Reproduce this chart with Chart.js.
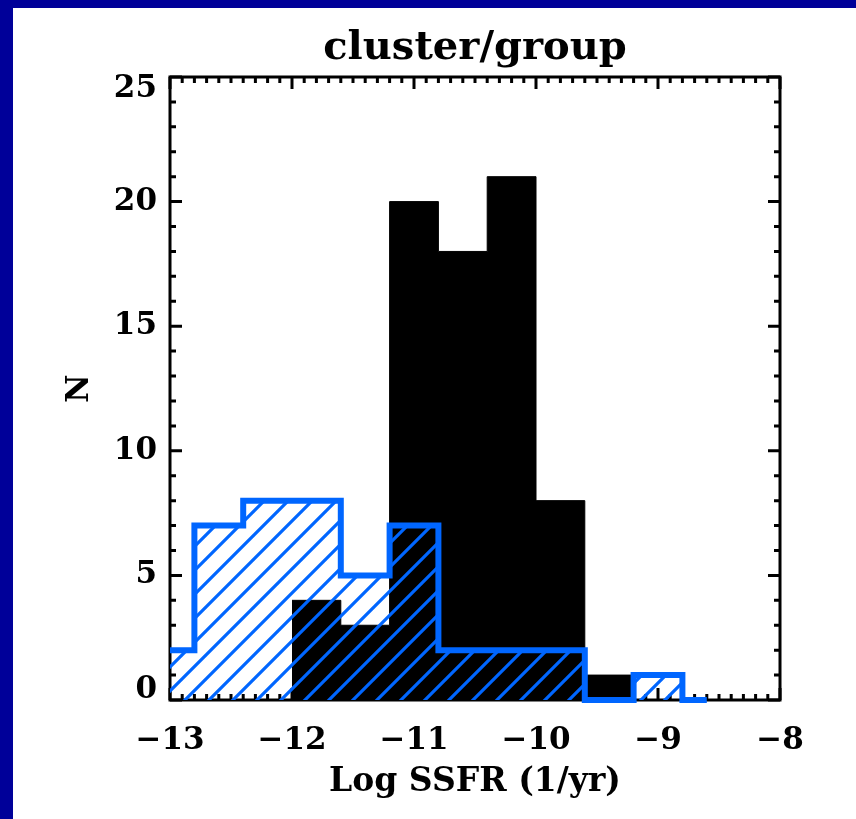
<!DOCTYPE html>
<html>
<head>
<meta charset="utf-8">
<script src="https://cdn.jsdelivr.net/npm/chart.js@4.4.1/dist/chart.umd.min.js"></script>
<style>
  body { margin: 0; background: #fff; }
  #wrap { border-left: 13px solid #000099; border-top: 8px solid #000099; width: 843px; height: 811px; background: #fff; }
</style>
</head>
<body>
<div id="wrap"><canvas id="myChart" width="843" height="811"></canvas></div>
<script>
/* data */
// black filled histogram: left bin edges (last one closes the final bin)
const blackEdges = [-12.0, -11.6, -11.2, -10.8, -10.4, -10.0, -9.6, -9.2];
const blackCounts = [4, 3, 20, 18, 21, 8, 1];

// blue hatched histogram: bin centres (drawn as a step-middle outline)
const blueCenters = [-13.0, -12.6, -12.2, -11.8, -11.4, -11.0, -10.6, -10.2, -9.8, -9.4, -9.0, -8.6];
const blueCounts = [2, 7, 8, 8, 5, 7, 2, 2, 2, 0, 1, 0];

const xTicks = [-13, -12, -11, -10, -9, -8];
const yTicks = [0, 5, 10, 15, 20, 25];
const xMinorStep = 0.1;
const yMinorStep = 1;

const BLUE = '#0066ff';

/* build points */
let blackPoints = [];
for (let i = 0; i < blackCounts.length; i++) {
    blackPoints.push({x: blackEdges[i], y: blackCounts[i]});
}
blackPoints.push({x: blackEdges[blackEdges.length - 1], y: blackCounts[blackCounts.length - 1]});

let bluePoints = blueCenters.map(function(c, i) { return {x: c, y: blueCounts[i]}; });

/* hatch pattern */
function makeHatch() {
    const s = 24;
    const c = document.createElement('canvas');
    c.width = s;
    c.height = s;
    const g = c.getContext('2d');
    g.strokeStyle = BLUE;
    g.lineWidth = 3.2;
    g.beginPath();
    g.moveTo(-s / 2, s / 2); g.lineTo(s / 2, -s / 2);
    g.moveTo(0, s); g.lineTo(s, 0);
    g.moveTo(s / 2, s * 1.5); g.lineTo(s * 1.5, s / 2);
    g.stroke();
    return g.createPattern(c, 'repeat');
}

function fmt(v) {
    return v < 0 ? '\u2212' + Math.abs(v) : String(v);
}

// end labels of the y axis sit pulled inward, like in the original plot
function yLabel(v) {
    if (v === yTicks[yTicks.length - 1]) return ['', fmt(v)];
    if (v === yTicks[0]) return [fmt(v), ''];
    return fmt(v);
}

/* frame + inward ticks on all four sides */
const frameTicks = {
    id: 'frameTicks',
    beforeDatasetsDraw(chart) {
        const {ctx, chartArea: a, scales: {x, y}} = chart;
        ctx.save();
        ctx.strokeStyle = '#000';
        ctx.lineWidth = 3;
        ctx.beginPath();
        const nx = Math.round((x.max - x.min) / xMinorStep);
        for (let i = 0; i <= nx; i++) {
            const v = x.min + i * xMinorStep;
            const px = x.getPixelForValue(v);
            const len = xTicks.some(function(t) { return Math.abs(t - v) < 1e-6; }) ? 12 : 6;
            ctx.moveTo(px, a.bottom); ctx.lineTo(px, a.bottom - len);
            ctx.moveTo(px, a.top); ctx.lineTo(px, a.top + len);
        }
        const ny = Math.round((y.max - y.min) / yMinorStep);
        for (let i = 0; i <= ny; i++) {
            const v = y.min + i * yMinorStep;
            const py = y.getPixelForValue(v);
            const len = yTicks.indexOf(v) >= 0 ? 12 : 6;
            ctx.moveTo(a.left, py); ctx.lineTo(a.left + len, py);
            ctx.moveTo(a.right, py); ctx.lineTo(a.right - len, py);
        }
        ctx.stroke();
        ctx.strokeRect(a.left, a.top, a.right - a.left, a.bottom - a.top);
        ctx.restore();
    }
};

const tickFont = {family: 'DejaVu Serif', size: 31, weight: 'bold'};

const ctx = document.getElementById('myChart');
const myChart = new Chart(ctx, {
    type: 'line',
    data: {
        datasets: [{
            label: 'blue',
            data: bluePoints,
            stepped: 'middle',
            borderColor: BLUE,
            borderWidth: 6,
            borderJoinStyle: 'miter',
            borderCapStyle: 'butt',
            backgroundColor: makeHatch(),
            fill: 'origin',
            pointRadius: 0,
            clip: 4
        }, {
            label: 'black',
            data: blackPoints,
            stepped: 'before',
            borderColor: '#000',
            borderWidth: 1,
            backgroundColor: '#000',
            fill: 'origin',
            pointRadius: 0
        }]
    },
    options: {
        responsive: false,
        animation: false,
        devicePixelRatio: 1,
        layout: {padding: {left: 0, right: 76, top: 0, bottom: 0}},
        plugins: {
            legend: {display: false},
            tooltip: {enabled: false},
            title: {
                display: true,
                text: 'cluster/group',
                fullSize: false,
                color: '#000',
                font: {family: 'DejaVu Serif', size: 40, weight: 'bold', lineHeight: 1.2},
                padding: {top: 17, bottom: 4}
            }
        },
        scales: {
            x: {
                type: 'linear',
                min: -13,
                max: -8,
                afterBuildTicks: function(scale) { scale.ticks = xTicks.map(function(v) { return {value: v}; }); },
                afterFit: function(scale) { scale.height = 119; },
                grid: {display: false, drawTicks: false},
                border: {display: false},
                ticks: {color: '#000', font: tickFont, padding: 22, maxRotation: 0, callback: fmt},
                title: {
                    display: true,
                    text: 'Log SSFR (1/yr)',
                    color: '#000',
                    font: {family: 'DejaVu Serif', size: 33, weight: 'bold', lineHeight: 1.2},
                    padding: {top: 0, bottom: 17}
                }
            },
            y: {
                type: 'linear',
                min: 0,
                max: 25,
                afterBuildTicks: function(scale) { scale.ticks = yTicks.map(function(v) { return {value: v}; }); },
                afterFit: function(scale) { scale.width = 157; },
                grid: {display: false, drawTicks: false},
                border: {display: false},
                ticks: {
                    color: '#000',
                    font: function(c) {
                        const v = c.tick ? c.tick.value : null;
                        if (v === yTicks[yTicks.length - 1]) return {family: 'DejaVu Serif', size: 31, weight: 'bold', lineHeight: '24px'};
                        if (v === yTicks[0]) return {family: 'DejaVu Serif', size: 31, weight: 'bold', lineHeight: '20px'};
                        return tickFont;
                    },
                    padding: 13,
                    callback: yLabel
                },
                title: {
                    display: true,
                    text: 'N',
                    color: '#000',
                    font: {family: 'DejaVu Serif', size: 31, weight: 'bold', lineHeight: 1.2},
                    padding: {top: 48, bottom: 0}
                }
            }
        }
    },
    plugins: [frameTicks]
});
</script>
</body>
</html>
